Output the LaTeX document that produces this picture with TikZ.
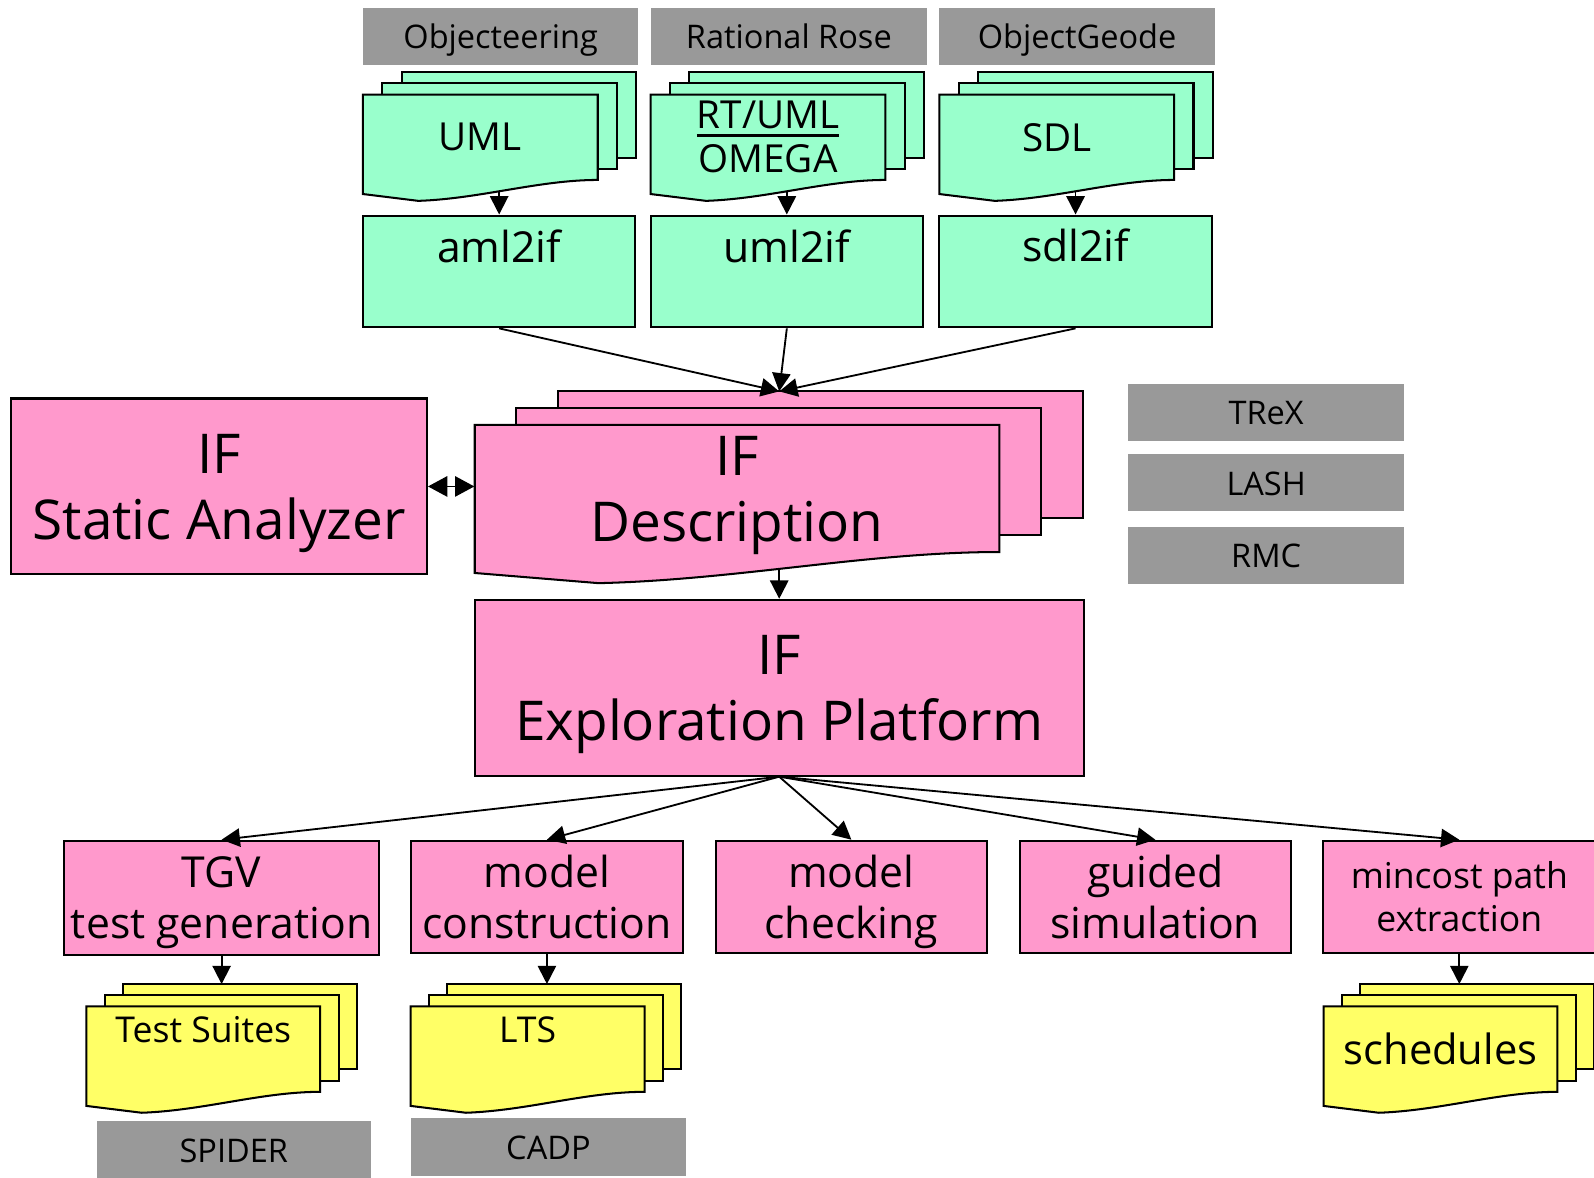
\documentclass[tikz,border=0pt]{standalone}
\usepackage{fontspec}
\setmainfont{Open Sans}
\usetikzlibrary{arrows.meta,backgrounds}

\definecolor{mint}{RGB}{153,255,204}
\definecolor{rosefill}{RGB}{255,153,204}
\definecolor{lemon}{RGB}{255,255,102}
\definecolor{toolgray}{RGB}{153,153,153}

\newcommand\fBig{\fontsize{27}{32.5}\selectfont}
\newcommand\fMid{\fontsize{21}{25}\selectfont}
\newcommand\fDoc{\fontsize{19}{21.5}\selectfont}
\newcommand\fTool{\fontsize{16}{19}\selectfont}
\newcommand\fSmall{\fontsize{17.5}{21.5}\selectfont}
\newcommand\fSched{\fontsize{20.5}{24}\selectfont}

% thick underline
\newsavebox\ulbox
\newcommand\thickul[1]{\sbox\ulbox{#1}\rlap{\rule[-4pt]{\wd\ulbox}{1.6pt}}\usebox\ulbox}

% rectangle node given by its corners (picture units)
\newcommand\boxnode[7]{%
  \node[#1, minimum width={(#5-#3)*0.5pt}, minimum height={(#6-#4)*0.5pt}]
    (#2) at ({(#3+#5)/2},{(#4+#6)/2}) {#7};}

% stack of three documents: name, left, top, right, bottom (right edge), fill, text options, text
\def\sdx{19}\def\sdy{11}
\newcommand\docstack[8]{%
  \filldraw[docline, fill=#6] ({#2+2*\sdx},{#3-2*\sdy}) rectangle ({#4+2*\sdx},{#5-2*\sdy});
  \filldraw[docline, fill=#6] ({#2+\sdx},{#3-\sdy}) rectangle ({#4+\sdx},{#5-\sdy});
  \filldraw[docline, fill=#6] (#2,#3) -- (#4,#3) -- (#4,#5)
     .. controls ({#2+0.75*(#4-#2)},#5) and ({#2+0.5*(#4-#2)},{#5+0.22*(#5-#3)})
     .. ({#2+0.236*(#4-#2)},{#5+0.245*(#5-#3)}) -- (#2,{#5+0.165*(#5-#3)}) -- cycle;
  \coordinate (#1-top) at ({(#2+#4)/2+2*\sdx},{#3-2*\sdy});
  \node[inner sep=0pt, align=center, minimum width={(#4-#2)*0.5pt},
        minimum height={(#5-#3)*0.5pt}, #7] (#1) at ({(#2+#4)/2},{(#3+#5)/2}) {#8};}

\begin{document}
\begin{tikzpicture}[x=0.5pt, y=-0.5pt,
  docline/.style={draw=black, line width=1pt},
  toolbox/.style={fill=toolgray, inner sep=0pt, font=\fTool, text height=13.5pt, text depth=1.5pt},
  pinkbox/.style={draw=black, line width=1pt, fill=rosefill, inner sep=0pt, align=center},
  mintbox/.style={draw=black, line width=1pt, fill=mint, inner sep=0pt},
  conn/.style={line width=0.9pt, -{Triangle[length=9pt,width=9pt]}},
  dconn/.style={line width=0.9pt, {Triangle[length=9.5pt,width=10pt]}-{Triangle[length=9.5pt,width=10pt]}}]

\begin{pgfonlayer}{background}
  \fill[white] (0,0) rectangle (1568,1158);
\end{pgfonlayer}
\useasboundingbox (0,0) rectangle (1568,1158);

% source tools
\boxnode{toolbox}{objecteering}{357}{8}{628}{64}{Objecteering}
\boxnode{toolbox}{rationalrose}{640}{8}{912}{64}{Rational Rose}
\boxnode{toolbox}{objectgeode}{924}{8}{1195}{64}{ObjectGeode}

% input models
\def\sdx{19}\def\sdy{11}
\docstack{uml}{357}{93}{588}{177}{mint}{font=\fDoc}{UML}
\docstack{omega}{640}{93}{871}{177}{mint}{font=\fDoc}{\thickul{RT/UML}\\OMEGA}
\docstack{sdl}{924}{93}{1155}{177}{mint}{font=\fDoc}{SDL}

% translators
\boxnode{mintbox}{aml2if}{357}{212}{625}{322}{}
\boxnode{mintbox}{uml2if}{640}{212}{908}{322}{}
\boxnode{mintbox}{sdl2if}{924}{212}{1192}{322}{}
\node[font=\fMid, inner sep=0pt] (aml2if-name) at (491,242) {aml2if};
\node[font=\fMid, inner sep=0pt] (uml2if-name) at (774,242) {uml2if};
\node[font=\fMid, inner sep=0pt] (sdl2if-name) at (1058,241) {sdl2if};

% connected tools
\boxnode{toolbox}{trex}{1110}{378}{1381}{434}{TReX}
\boxnode{toolbox}{lash}{1110}{447}{1381}{503}{LASH}
\boxnode{toolbox}{rmc}{1110}{518}{1381}{574}{RMC}

% core
\boxnode{pinkbox, font=\fBig, text depth=0pt}{sa}{11}{392}{420}{565}{IF\\Static Analyzer}
\def\sdx{41}\def\sdy{16.5}
\docstack{desc}{467}{418}{983}{543}{rosefill}{font=\fBig, yshift=-3.5pt}{IF\\Description}
\boxnode{pinkbox, font=\fBig, text depth=0pt}{explore}{467}{590}{1066}{763}{IF\\Exploration Platform}

% back-ends
\boxnode{pinkbox, font=\fMid, text depth=0pt}{tgv}{63}{827}{373}{939}{TGV\\test generation}
\boxnode{pinkbox, font=\fMid}{construct}{404}{827}{672}{937}{model\\construction}
\boxnode{pinkbox, font=\fMid, text depth=0pt}{checking}{704}{827}{971}{937}{model\\checking}
\boxnode{pinkbox, font=\fMid}{simulation}{1003}{827}{1270}{937}{guided\\simulation}
\boxnode{pinkbox, font=\fSmall}{mincost}{1301}{827}{1570}{937}{mincost path\\extraction}

% results
\def\sdx{18}\def\sdy{11}
\docstack{suites}{85}{990}{315}{1074}{lemon}{font=\fSmall, yshift=9.5pt}{Test Suites}
\docstack{lts}{404}{990}{634}{1074}{lemon}{font=\fSmall, yshift=9.5pt}{LTS}
\docstack{schedules}{1302}{990}{1532}{1074}{lemon}{font=\fSched}{schedules}

\boxnode{toolbox}{spider}{95}{1103}{365}{1160}{SPIDER}
\boxnode{toolbox}{cadp}{404}{1100}{675}{1157}{CADP}

% connectors running out from under the documents
\begin{pgfonlayer}{background}
  \draw[conn] (aml2if.north |- uml.center) -- (aml2if.north);
  \draw[conn] (uml2if.north |- omega.center) -- (uml2if.north);
  \draw[conn] (sdl2if.north |- sdl.center) -- (sdl2if.north);
  \draw[conn] (explore.north |- desc.center) -- (explore.north);
\end{pgfonlayer}

\coordinate (desc-in) at (explore.north |- desc-top);
\draw[conn] (aml2if.south) -- (desc-in);
\draw[conn] (uml2if.south) -- (desc-in);
\draw[conn] (sdl2if.south) -- (desc-in);
\draw[dconn] (sa.east) -- (sa.east -| desc.west);

\draw[conn] (explore.south) -- (tgv.north);
\draw[conn] (explore.south) -- (construct.north);
\draw[conn] (explore.south) -- (checking.north);
\draw[conn] (explore.south) -- (simulation.north);
\draw[conn] (explore.south) -- (mincost.north);

\draw[conn] (tgv.south) -- (tgv.south |- suites-top);
\draw[conn] (construct.south) -- (construct.south |- lts-top);
\draw[conn] (mincost.south) -- (mincost.south |- schedules-top);
\end{tikzpicture}
\end{document}
